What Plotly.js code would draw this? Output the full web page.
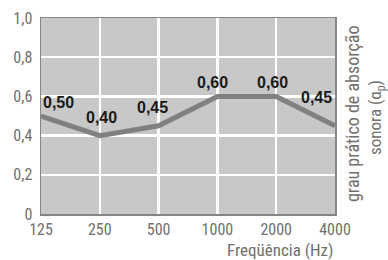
<!DOCTYPE html>
<html><head><meta charset="utf-8">
<script src="https://cdn.plot.ly/plotly-3.0.1.min.js"></script>
<style>html,body{margin:0;padding:0;background:#fff}#c{width:388px;height:260px}</style>
</head><body><div id="c"></div>
<script>
var frequencies = ['125','250','500','1000','2000','4000'];
var absorption = [0.50, 0.40, 0.45, 0.60, 0.60, 0.45];
var valueLabels = ['0,50','0,40','0,45','0,60','0,60','0,45'];
var yTickVals = [0, 0.2, 0.4, 0.6, 0.8, 1.0];
var yTickText = ['0','0,2','0,4','0,6','0,8','1,0'];
var xTitle = 'Freqüência (Hz)';
var yTitle1 = 'grau prático de absorção';
var yTitle2 = 'sonora (α<sub>p</sub>)';

// label offsets in pixels (style only)
var labelDx = [17, 2, -6, -5, -4, -19];
var labelDy = [14, 18, 18, 14, 14, 28];

var FONT = 'Liberation Sans Narrow, Arial Narrow, Roboto Condensed, Liberation Sans, sans-serif';
var LFONT = 'Liberation Sans, Arial, sans-serif';
var xIdx = frequencies.map(function(_, i){ return i; });

var trace = {
  type: 'scatter', mode: 'lines',
  x: xIdx, y: absorption,
  line: {color: '#808080', width: 5},
  cliponaxis: true, hoverinfo: 'skip'
};

var anns = valueLabels.map(function(t, i){
  return {x: xIdx[i], y: absorption[i], xref: 'x', yref: 'y', text: t, showarrow: false,
    xanchor: 'center', yanchor: 'middle', xshift: labelDx[i], yshift: labelDy[i],
    font: {family: LFONT, size: 16, color: '#1a1a1a', weight: 'bold'}};
});

anns.push(
  {xref: 'paper', yref: 'paper', x: 1, y: -0.184, xanchor: 'right', yanchor: 'middle',
   text: xTitle, showarrow: false, font: {family: FONT, size: 17, color: '#707070'}},
  {xref: 'paper', yref: 'paper', x: 1.058, y: 0.51, xanchor: 'center', yanchor: 'middle',
   text: yTitle1, textangle: -90, showarrow: false, font: {family: FONT, size: 18, color: '#707070'}},
  {xref: 'paper', yref: 'paper', x: 1.143, y: 0.49, xanchor: 'center', yanchor: 'middle',
   text: yTitle2, textangle: -90, showarrow: false, font: {family: FONT, size: 17, color: '#707070'}}
);

var layout = {
  width: 388, height: 260,
  margin: {l: 41, r: 53, t: 18, b: 46},
  paper_bgcolor: '#fff', plot_bgcolor: '#c8c8c8',
  showlegend: false,
  font: {family: FONT, size: 16, color: '#707070'},
  xaxis: {
    range: [0, frequencies.length - 1], tickvals: xIdx, ticktext: frequencies,
    showgrid: true, gridcolor: '#ffffff', gridwidth: 2.5,
    zeroline: false, showline: true, linecolor: '#858585', linewidth: 1.5, mirror: true,
    ticks: '', ticklen: 0, tickfont: {family: FONT, size: 16, color: '#707070'}, fixedrange: true
  },
  yaxis: {
    range: [0, 1], tickvals: yTickVals, ticktext: yTickText,
    showgrid: true, gridcolor: '#ffffff', gridwidth: 2.5,
    zeroline: false, showline: true, linecolor: '#858585', linewidth: 1.5, mirror: true,
    ticks: '', ticklen: 0, ticklabelstandoff: 4,
    tickfont: {family: FONT, size: 16, color: '#707070'}, fixedrange: true
  },
  annotations: anns
};

Plotly.newPlot('c', [trace], layout, {displayModeBar: false, staticPlot: true});
</script></body></html>
